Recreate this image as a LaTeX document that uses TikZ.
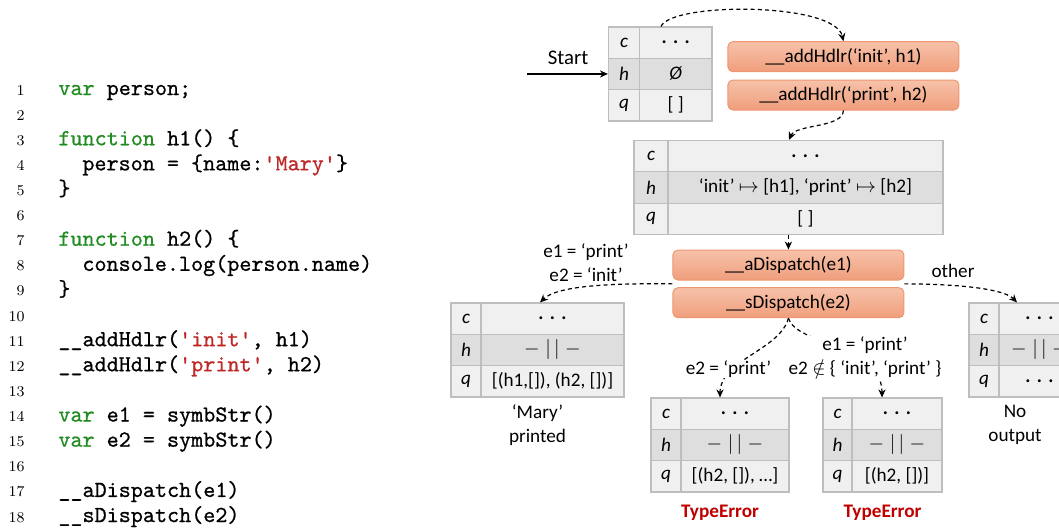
\documentclass[tikz,border=0pt]{standalone}
\usepackage{fontspec}
\usetikzlibrary{arrows.meta,calc}
\newfontfamily\dgfont{Carlito}
\newfontfamily\codefont{lmmono10-regular.otf}[FakeBold=0.7]

\definecolor{kwgreen}{RGB}{34,139,34}
\definecolor{strred}{RGB}{190,40,40}
\definecolor{rowA}{RGB}{240,240,240}
\definecolor{rowB}{RGB}{222,222,222}
\definecolor{tabline}{RGB}{190,190,190}
\definecolor{optop}{RGB}{246,194,170}
\definecolor{opbot}{RGB}{240,158,124}
\definecolor{opline}{RGB}{238,150,112}
\definecolor{errred}{RGB}{192,0,0}

% code highlighting
\newcommand\kw[1]{\textcolor{kwgreen}{#1}}
\newcommand\jstr[1]{\textcolor{strred}{\textquotesingle#1\textquotesingle}}
\newcommand\ddd{\textbf{.}\hspace{0.33em}\textbf{.}\hspace{0.33em}\textbf{.}}
\newcommand\same{$-\;|\,|\;-$}

% one numbered source line: number, text, x of the text
\newcommand\srcline[3]{%
  \node[lnum] (ln-#1) at (25,{95+(#1-1)*25.12}) {#1};
  \node[jscode] (src-#1) at (#3,{95+(#1-1)*25.12}) {#2};}

% one state table: name, left x, divider x, right x, top y, c, h, q
\newcommand\memtab[8]{%
  \node[cell,fill=rowA,minimum width={(#3-#2)*0.5pt}] (#1-c)  at ({(#2+#3)/2},{#5+15.65}) {\textit{c}};
  \node[cell,fill=rowA,minimum width={(#4-#3)*0.5pt}] (#1-cv) at ({(#3+#4)/2},{#5+15.65}) {#6};
  \node[cell,fill=rowB,minimum width={(#3-#2)*0.5pt}] (#1-h)  at ({(#2+#3)/2},{#5+46.95}) {\textit{h}};
  \node[cell,fill=rowB,minimum width={(#4-#3)*0.5pt}] (#1-hv) at ({(#3+#4)/2},{#5+46.95}) {#7};
  \node[cell,fill=rowA,minimum width={(#3-#2)*0.5pt}] (#1-q)  at ({(#2+#3)/2},{#5+78.25}) {\textit{q}};
  \node[cell,fill=rowA,minimum width={(#4-#3)*0.5pt}] (#1-qv) at ({(#3+#4)/2},{#5+78.25}) {#8};}

\tikzset{
  x=0.5pt, y=-0.5pt,
  jscode/.style={anchor=base west, inner sep=0, font=\codefont\fontsize{11.5}{13}\selectfont},
  lnum/.style={anchor=base east, inner sep=0, font=\fontsize{7.5}{9}\selectfont},
  dg/.style={font=\dgfont\fontsize{9.6}{12}\selectfont},
  cell/.style={dg, draw=tabline, line width=0.6pt, inner sep=0, minimum height=15.65pt},
  opbox/.style={dg, rounded corners=2.5pt, draw=opline, line width=0.5pt,
    top color=optop, bottom color=opbot, minimum width=115.5pt, minimum height=15pt, inner sep=0},
  flow/.style={line width=0.6pt, dash pattern=on 2pt off 1.6pt, -{Stealth[length=4pt,width=3.6pt]}},
  solidflow/.style={line width=0.6pt, -{Stealth[length=4pt,width=3.6pt]}},
  lbl/.style={dg, fill=white, inner sep=0.5pt, align=center},
  note/.style={dg, inner sep=0, align=center},
  err/.style={dg, inner sep=0, text=errred, font=\dgfont\bfseries\fontsize{9.6}{12}\selectfont}
}

\begin{document}
\begin{tikzpicture}
\useasboundingbox (0,0) rectangle (1059,527);
\clip (0,0) rectangle (1059,527);

% ---------------- source program ----------------
\srcline{1}{\kw{var} person;}{58}
\srcline{2}{}{58}
\srcline{3}{\kw{function} h1() \{}{58}
\srcline{4}{person = \{name:\jstr{Mary}\}}{82}
\srcline{5}{\}}{58}
\srcline{6}{}{58}
\srcline{7}{\kw{function} h2() \{}{58}
\srcline{8}{console.log(person.name)}{82}
\srcline{9}{\}}{58}
\srcline{10}{}{58}
\srcline{11}{\_\_addHdlr(\jstr{init}, h1)}{58}
\srcline{12}{\_\_addHdlr(\jstr{print}, h2)}{58}
\srcline{13}{}{58}
\srcline{14}{\kw{var} e1 = symbStr()}{58}
\srcline{15}{\kw{var} e2 = symbStr()}{58}
\srcline{16}{}{58}
\srcline{17}{\_\_aDispatch(e1)}{58}
\srcline{18}{\_\_sDispatch(e2)}{58}

% ---------------- states ----------------
\memtab{t1}{608.5}{639.5}{712}{27}{\ddd}{\textit{Ø}}{[ ]}
\memtab{big}{634}{668}{943}{140.5}{\ddd}{‘init’ $\mapsto$ [h1], ‘print’ $\mapsto$ [h2]}{[ ]}
\memtab{t2}{451}{481}{624}{303}{\ddd}{\same}{[(h1,[]), (h2, [])]}
\memtab{ta}{651}{681}{789}{398}{\ddd}{\same}{[(h2, []), …]}
\memtab{tb}{823}{852}{942}{398}{\ddd}{\same}{[(h2, [])]}
\memtab{t4}{969}{999}{1080}{303}{\ddd}{\same}{\ddd}

% ---------------- operations ----------------
\node[opbox] (add1) at (843.4,56.7) {\_\_addHdlr(‘init’, h1)};
\node[opbox] (add2) at (843.4,95) {\_\_addHdlr(‘print’, h2)};
\node[opbox] (adisp) at (788.4,265) {\_\_aDispatch(e1)};
\node[opbox] (sdisp) at (788.4,302.7) {\_\_sDispatch(e2)};

% ---------------- entry ----------------
\node[note] (start) at (568,58) {\fontsize{10.4}{12}\selectfont Start};
\coordinate (entry) at (527,73.95);
\draw[solidflow] (entry) -- (t1-h.west);

% ---------------- transitions ----------------
\draw[flow] ([xshift=-7.4pt]t1-cv.north) .. controls (672,2) and (835,2) .. (add1.north);
\draw[flow] (add2.south) .. controls (843,128) and (796,124) .. ([xshift=-8.25pt]big-cv.north);
\draw[flow] (big-qv.south -| adisp.north) -- (adisp.north);

\draw[flow] ($(adisp.south west)!0.5!(sdisp.north west)$) .. controls (600,283) and (556,287) .. ([xshift=-6.25pt]t2-cv.north);
\draw[flow] ($(adisp.south east)!0.5!(sdisp.north east)$) .. controls (960,284) and (1004,289) .. ([xshift=-11.25pt]t4-cv.north);
\draw[flow] (sdisp.south) .. controls (780,350) and (720,360) .. ([xshift=-7.5pt]ta-cv.north);
\draw[flow] (sdisp.south) .. controls (796,345) and (882,345) .. ([xshift=-7.5pt]tb-cv.north);

% ---------------- transition labels ----------------
\node[note] (cond1) at (586,262.5) {e1 = ‘print’\\e2 = ‘init’};
\node[note] (cond4) at (953,271) {other};
\node[lbl] (condA) at (728.5,369) {e2 = ‘print’};
\node[lbl] (condB) at (865,357.5) {e1 = ‘print’\\e2 $\notin$ \{ ‘init’, ‘print’ \}};

% ---------------- outcomes ----------------
\node[note] (out2) at (537.5,425) {‘Mary’\\printed};
\node[note] (out4) at (1015,425) {No\\output};
\node[err] (outA) at (720,513) {TypeError};
\node[err] (outB) at (882.5,513) {TypeError};
\end{tikzpicture}
\end{document}
